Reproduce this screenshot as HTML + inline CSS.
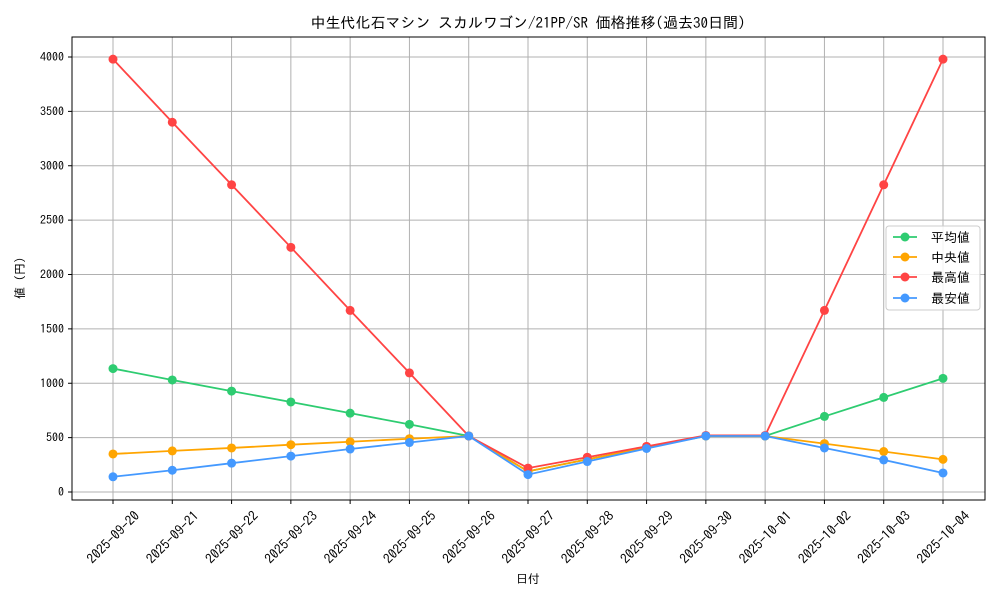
<!DOCTYPE html>
<html><head><meta charset="utf-8"><style>
html,body{margin:0;padding:0;background:#fff;}
svg text{font-family:"IPAGothic","Liberation Sans","Noto Sans CJK JP",sans-serif;}
</style></head><body>
<svg id="c" width="1000" height="600" xmlns="http://www.w3.org/2000/svg">
<rect width="1000" height="600" fill="#fff"/>
<text x="528" y="28" font-size="15" text-anchor="middle" fill="#000">中生代化石マシン スカルワゴン/21PP/SR 価格推移(過去30日間)</text>
<g id="grid"></g>
<rect x="72" y="37" width="913" height="463" fill="none" stroke="#000" stroke-width="1"/>
<g id="series"></g>
<text x="528" y="583" font-size="12" text-anchor="middle">日付</text>
<text transform="translate(24,275) rotate(-90)" font-size="12" text-anchor="middle">値（円）</text>
<g>
<rect x="886" y="226" width="94" height="84" fill="#fff" fill-opacity="0.85" stroke="#ccc" rx="3"/>
<line x1="893" y1="237" x2="917" y2="237" stroke="#2ecc71" stroke-width="1.8"/><circle cx="905" cy="237" r="4.5" fill="#2ecc71"/><text x="931" y="242" font-size="13">平均値</text>
<line x1="893" y1="257" x2="917" y2="257" stroke="#ffa500" stroke-width="1.8"/><circle cx="905" cy="257" r="4.5" fill="#ffa500"/><text x="931" y="262" font-size="13">中央値</text>
<line x1="893" y1="277" x2="917" y2="277" stroke="#ff4444" stroke-width="1.8"/><circle cx="905" cy="277" r="4.5" fill="#ff4444"/><text x="931" y="282" font-size="13">最高値</text>
<line x1="893" y1="298" x2="917" y2="298" stroke="#4499ff" stroke-width="1.8"/><circle cx="905" cy="298" r="4.5" fill="#4499ff"/><text x="931" y="303" font-size="13">最安値</text>
</g>
</svg>
<script>
const X=i=>113+i*830/14, Y=v=>492-v*435/4000;
const dates=["2025-09-20","2025-09-21","2025-09-22","2025-09-23","2025-09-24","2025-09-25","2025-09-26","2025-09-27","2025-09-28","2025-09-29","2025-09-30","2025-10-01","2025-10-02","2025-10-03","2025-10-04"];
let g="";
for(let i=0;i<15;i++){const x=X(i);g+=`<line x1="${x}" y1="37" x2="${x}" y2="500" stroke="#b0b0b0" stroke-width="1"/><line x1="${x}" y1="500" x2="${x}" y2="504" stroke="#000"/><text transform="translate(${x},${537}) rotate(-45)" font-size="13.5" text-anchor="middle" dominant-baseline="central">${dates[i]}</text>`;}
for(let v=0;v<=4000;v+=500){const y=Y(v);g+=`<line x1="72" y1="${y}" x2="985" y2="${y}" stroke="#b0b0b0" stroke-width="1"/><line x1="68" y1="${y}" x2="72" y2="${y}" stroke="#000"/><text x="64" y="${y+4}" font-size="12" text-anchor="end">${v}</text>`;}
document.getElementById("grid").innerHTML=g;
const S=[
["#2ecc71",[1135,1030,928,828,725,622,515,190,300,410,515,515,695,870,1045]],
["#ffa500",[350,378,405,435,462,490,515,190,300,410,515,515,445,372,300]],
["#ff4444",[3980,3400,2825,2250,1670,1095,515,220,320,420,520,520,1670,2825,3980]],
["#4499ff",[140,200,265,330,395,455,515,160,280,400,515,515,405,295,175]]];
let s="";
for(const [c,d] of S){s+=`<polyline fill="none" stroke="${c}" stroke-width="1.8" points="${d.map((v,i)=>X(i)+","+Y(v)).join(" ")}"/>`;
d.forEach((v,i)=>s+=`<circle cx="${X(i)}" cy="${Y(v)}" r="4.5" fill="${c}"/>`);}
document.getElementById("series").innerHTML=s;
</script>
</body></html>
